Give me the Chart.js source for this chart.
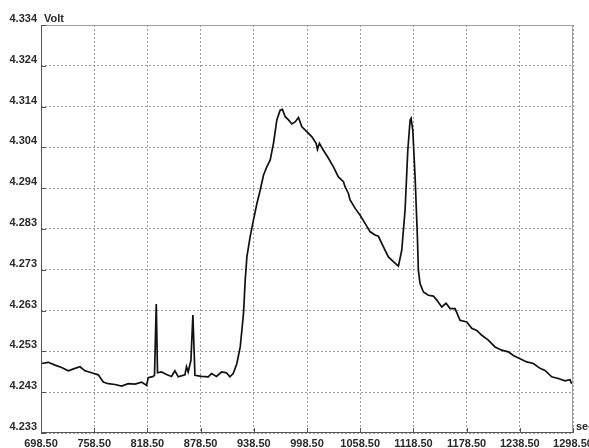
<!DOCTYPE html>
<html>
<head>
<meta charset="utf-8">
<script src="https://cdn.jsdelivr.net/npm/chart.js@4.4.1/dist/chart.umd.min.js"></script>
<style>
  html, body { margin: 0; padding: 0; background: #fff; }
  #wrap { width: 589px; height: 448px; position: relative; }
</style>
</head>
<body>
<div id="wrap"><canvas id="trace"></canvas></div>
<script>
// Recorded trace: time in sec, signal in Volt
var time = [
  699.0, 706.7, 714.3, 721.7, 729.3, 736.8, 742.5, 748.1, 755.5, 763.1,
  768.7, 774.4, 781.9, 789.4, 796.9, 804.5, 811.9, 817.5, 819.5, 825.1,
  826.5, 828.5, 829.9, 834.4, 840.1, 845.7, 849.5, 853.3, 860.8, 862.6,
  864.5, 867.6, 869.8, 872.1, 879.5, 887.1, 890.8, 896.4, 902.1, 907.7,
  911.5, 915.3, 919.4, 923.2, 926.9, 928.8, 930.7, 934.4, 938.1, 942.0,
  945.7, 949.4, 953.2, 957.0, 960.7, 964.5, 968.2, 970.8, 973.9, 977.6,
  981.4, 985.1, 988.9, 992.7, 998.3, 1004.0, 1008.8, 1010.3, 1012.5, 1017.0,
  1022.7, 1028.3, 1033.9, 1039.6, 1041.5, 1045.2, 1047.1, 1052.8, 1058.4, 1064.0,
  1069.7, 1075.3, 1079.0, 1084.7, 1090.3, 1095.9, 1101.6, 1105.4, 1109.1, 1112.2,
  1114.8, 1115.9, 1117.8, 1120.4, 1123.0, 1124.1, 1126.0, 1129.8, 1135.4, 1141.0,
  1144.9, 1150.5, 1155.3, 1159.9, 1165.5, 1171.1, 1178.7, 1184.3, 1190.0, 1195.6,
  1203.0, 1210.6, 1218.1, 1225.6, 1231.2, 1238.8, 1246.3, 1253.8, 1261.3, 1266.9,
  1274.5, 1281.9, 1289.5, 1295.1, 1297.0
];
var volt = [
  4.2502, 4.2505, 4.2498, 4.2492, 4.2484, 4.2490, 4.2494, 4.2484, 4.2479, 4.2474,
  4.2456, 4.2452, 4.2450, 4.2446, 4.2452, 4.2451, 4.2456, 4.2448, 4.2467, 4.2470,
  4.2473, 4.2649, 4.2479, 4.2481, 4.2475, 4.2470, 4.2484, 4.2469, 4.2474, 4.2494,
  4.2481, 4.2510, 4.2622, 4.2473, 4.2470, 4.2469, 4.2477, 4.2470, 4.2481, 4.2479,
  4.2469, 4.2477, 4.2502, 4.2543, 4.2626, 4.2708, 4.2766, 4.2816, 4.2857, 4.2898,
  4.2931, 4.2968, 4.2989, 4.3006, 4.3047, 4.3105, 4.3129, 4.3131, 4.3113, 4.3105,
  4.3095, 4.3100, 4.3111, 4.3088, 4.3076, 4.3063, 4.3047, 4.3032, 4.3047, 4.3030,
  4.3010, 4.2989, 4.2964, 4.2952, 4.2939, 4.2923, 4.2907, 4.2886, 4.2869, 4.2849,
  4.2828, 4.2820, 4.2817, 4.2791, 4.2766, 4.2754, 4.2743, 4.2783, 4.2882, 4.3030,
  4.3105, 4.3109, 4.3080, 4.2964, 4.2816, 4.2733, 4.2700, 4.2679, 4.2671, 4.2669,
  4.2659, 4.2642, 4.2651, 4.2638, 4.2638, 4.2609, 4.2605, 4.2589, 4.2584, 4.2572,
  4.2560, 4.2543, 4.2535, 4.2531, 4.2522, 4.2514, 4.2506, 4.2502, 4.2490, 4.2485,
  4.2469, 4.2465, 4.2459, 4.2462, 4.2452
];

// axis ticks
var xTicks = [698.5, 758.5, 818.5, 878.5, 938.5, 998.5, 1058.5, 1118.5, 1178.5, 1238.5, 1298.5];
var yTicks = [4.233, 4.2431, 4.2532, 4.2633, 4.2734, 4.2835, 4.2936, 4.3037, 4.3138, 4.3239, 4.334];
var yLabels = ['4.233', '4.243', '4.253', '4.263', '4.273', '4.283', '4.294', '4.304', '4.314', '4.324', '4.334'];

var FONT = { family: '"Liberation Sans", Arial, sans-serif', size: 11, weight: 'bold' };
var INK = '#2a2a2a';
var GRID = '#9c9c9c';

var points = time.map(function (t, i) { return { x: t, y: volt[i] }; });

// frame, inner tick marks and unit labels
var framePlugin = {
  id: 'frame',
  afterDraw: function (chart) {
    var ctx = chart.ctx, a = chart.chartArea;
    var xs = chart.scales.x, ys = chart.scales.y;
    ctx.save();
    ctx.lineWidth = 1;
    ctx.strokeStyle = '#a0a0a0';
    ctx.beginPath();
    ctx.moveTo(a.left, a.top + 0.5); ctx.lineTo(a.right, a.top + 0.5);
    ctx.moveTo(a.right - 0.5, a.top); ctx.lineTo(a.right - 0.5, a.bottom);
    ctx.stroke();
    ctx.strokeStyle = '#555';
    ctx.beginPath();
    ctx.moveTo(a.left + 0.5, a.top); ctx.lineTo(a.left + 0.5, a.bottom);
    ctx.moveTo(a.left, a.bottom - 0.5); ctx.lineTo(a.right, a.bottom - 0.5);
    yTicks.forEach(function (v) {
      var py = Math.round(ys.getPixelForValue(v)) + 0.5;
      ctx.moveTo(a.left, py); ctx.lineTo(a.left + 5, py);
    });
    xTicks.forEach(function (v) {
      var px = Math.round(xs.getPixelForValue(v)) + 0.5;
      ctx.moveTo(px, a.bottom); ctx.lineTo(px, a.bottom - 5);
    });
    ctx.stroke();

    ctx.fillStyle = INK;
    ctx.font = FONT.weight + ' ' + FONT.size + 'px ' + FONT.family;
    ctx.textBaseline = 'middle';
    ctx.textAlign = 'left';
    ctx.fillText('Volt', a.left + 3, a.top - 6);
    ctx.fillText('sec', a.right + 3, a.bottom - 6);
    ctx.restore();
  }
};

new Chart(document.getElementById('trace'), {
  type: 'line',
  data: {
    datasets: [{
      data: points,
      borderColor: '#111',
      borderWidth: 1.7,
      pointRadius: 0,
      tension: 0,
      fill: false
    }]
  },
  options: {
    responsive: true, maintainAspectRatio: false, animation: false,
    layout: { padding: { top: 25, right: 16, left: 0, bottom: 0 } },
    plugins: { legend: { display: false }, tooltip: { enabled: false } },
    scales: {
      x: {
        type: 'linear', min: 698.5, max: 1298.5,
        afterBuildTicks: function (s) { s.ticks = xTicks.map(function (v) { return { value: v }; }); },
        afterFit: function (s) { s.height = 15; s.paddingLeft = 0; s.paddingRight = 0; },
        grid: { color: GRID, lineWidth: 1, drawTicks: false },
        border: { display: false, dash: [2, 2] },
        ticks: {
          color: INK, font: FONT, padding: 4, autoSkip: false, maxRotation: 0,
          callback: function (v) { return v.toFixed(2); }
        }
      },
      y: {
        type: 'linear', min: 4.233, max: 4.334,
        afterBuildTicks: function (s) { s.ticks = yTicks.map(function (v) { return { value: v }; }); },
        afterFit: function (s) { s.width = 41; s.paddingTop = 0; s.paddingBottom = 0; },
        grid: { color: GRID, lineWidth: 1, drawTicks: false },
        border: { display: false, dash: [2, 2] },
        ticks: {
          color: INK, font: FONT, padding: 4, labelOffset: -6, autoSkip: false,
          callback: function (v, i) { return yLabels[i]; }
        }
      }
    }
  },
  plugins: [framePlugin]
});
</script>
</body>
</html>
